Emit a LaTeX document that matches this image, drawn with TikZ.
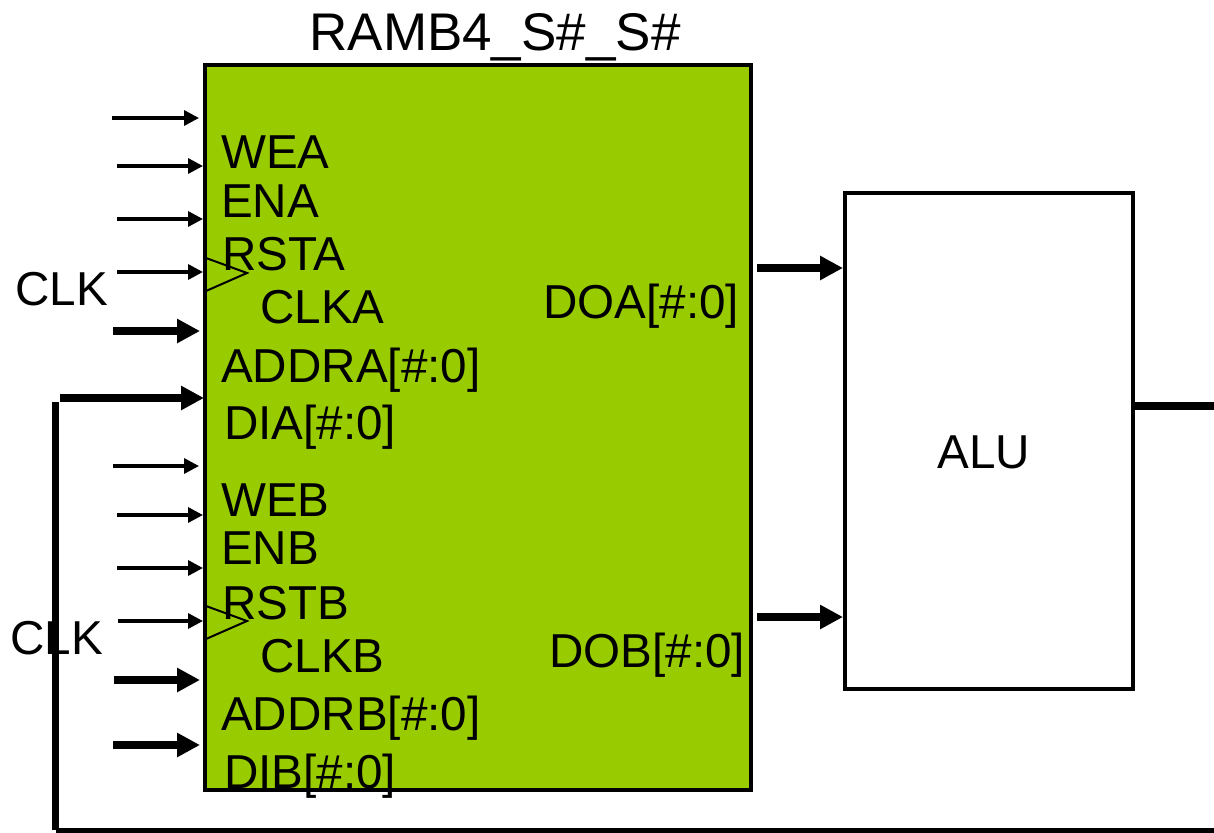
\documentclass[tikz,border=0pt]{standalone}
\usepackage{fontspec}
\setmainfont{Liberation Sans}
\usetikzlibrary{arrows.meta}
\definecolor{ramgreen}{RGB}{153,204,0}
\tikzset{
 lbl/.style={inner sep=0pt,anchor=base west,font=\fontsize{47.6}{48}\selectfont,text=black},
 thin arrow/.style={line width=3.3pt,-{Triangle[length=15pt,width=15pt]}},
 thick arrow/.style={line width=7.8pt,-{Triangle[length=23pt,width=23pt]}},
 block/.style={draw=black,line width=4pt,inner sep=0pt,outer sep=0pt,anchor=north west},
 clocktri/.style={draw=black,line width=2pt}}
\begin{document}
\begin{tikzpicture}[x=1pt,y=-1pt]
\useasboundingbox (0,0) rectangle (1214,832);
\node[block,fill=ramgreen,minimum width=546pt,minimum height=725pt] (ram) at (205,65) {};
\node[block,fill=white,minimum width=288pt,minimum height=496pt] (alu) at (845,193) {};
\node[lbl,anchor=base] (title) at (495,51) {\fontsize{53}{53}\selectfont RAMB4\_S\#\_S\#};
\node[lbl,anchor=base] (alut) at (984,468) {ALU};
\foreach \n/\t/\x/\y in {a/WEA/221/168,b/ENA/221/217,c/RSTA/222/270,d/CLKA/260/323,e/ADDRA[\#:0]/221/382,f/DIA[\#:0]/224/439,
 g/WEB/221/516,h/ENB/221/564,i/RSTB/222/619,j/CLKB/260/672,k/ADDRB[\#:0]/221/730,l/DIB[\#:0]/224/788,
 m/DOA[\#:0]/543/318,n/DOB[\#:0]/549/667,o/CLK/15/305,p/CLK/10/654}
 \node[lbl] (t\n) at (\x,\y) {\t};
\foreach \n/\y in {1/258,2/606}{
 \coordinate (ta\n) at (206,\y);
 \coordinate (tb\n) at (206,\y+33);
 \coordinate (tc\n) at (247,\y+15);
 \draw[clocktri] (ta\n) -- (tc\n) -- (tb\n);
}
\foreach \n/\xa/\xb/\y in {1/112/199/118,2/117/203/166,3/117/203/219,4/117/203/272,5/113/199/466,6/117/203/515,7/117/203/568,8/118/203/621}{
 \coordinate (s\n) at (\xa,\y);
 \coordinate (e\n) at (\xb,\y);
 \draw[thin arrow] (s\n) -- (e\n);
}
\foreach \n/\xa/\y in {1/113/331,2/114/680,3/113/745}{
 \coordinate (S\n) at (\xa,\y);
 \coordinate (E\n) at (200,\y);
 \draw[thick arrow] (S\n) -- (E\n);
}
\coordinate (fbs) at (1214,830);
\coordinate (fbc) at (55.5,830);
\coordinate (fbd) at (55.5,402);
\coordinate (fbt) at (60,398);
\coordinate (fbe) at (204,398);
\draw[line width=7.5pt] (fbd) -- (fbc);
\draw[line width=5pt] (fbc) -- (fbs);
\draw[thick arrow] (fbt) -- (fbe);
\coordinate (doa) at (757,268);
\coordinate (dob) at (757,617);
\coordinate (aluA) at (843,268);
\coordinate (aluB) at (843,617);
\draw[thick arrow] (doa) -- (aluA);
\draw[thick arrow] (dob) -- (aluB);
\coordinate (out) at (1214,406);
\draw[line width=7.8pt] (alu.east |- out) -- (out);
\end{tikzpicture}
\end{document}
